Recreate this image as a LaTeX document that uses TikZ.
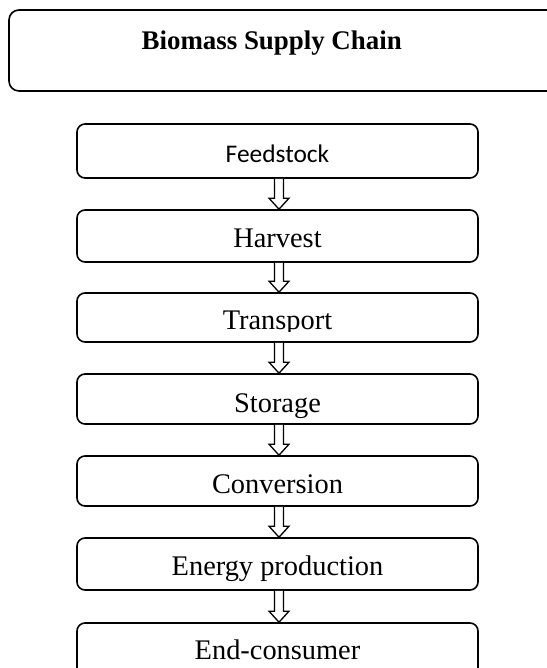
\documentclass[tikz,border=0pt]{standalone}
\usepackage{fontspec}
\setmainfont{Liberation Serif}
\newfontfamily\calibrifont{Carlito}
\usetikzlibrary{calc}
\tikzset{
  stepbox/.style={draw, line width=1.6bp, rounded corners=8bp, minimum width=401bp, inner sep=0pt},
  titlebox/.style={draw, line width=1.6bp, rounded corners=10bp, inner sep=0pt},
  steptext/.style={anchor=base, inner sep=0pt, font=\fontsize{28.5}{31}\selectfont},
  flowarrow/.style={draw, line width=1.3bp, fill=white, line join=miter}
}
\newcommand{\hollowdown}[2]{%
  \draw[flowarrow] ($(#1.south)+(-3,0)$) -- ($(#2.north)+(-3,-11)$) -- ($(#2.north)+(-8.5,-11)$)
    -- ($(#2.north)+(1.5,0)$) -- ($(#2.north)+(11.5,-11)$) -- ($(#2.north)+(6,-11)$)
    -- ($(#1.south)+(6,0)$);}
\begin{document}
\begin{tikzpicture}[x=1bp,y=-1bp]
\useasboundingbox (0,0) rectangle (547,668);
% title
\node[titlebox, minimum width=561bp, minimum height=81bp] (titlebox) at (289.5,50.5) {};
\node[anchor=base, inner sep=0pt, font=\fontsize{27}{30}\selectfont\bfseries] (title) at (271.7,50) {Biomass Supply Chain};
% boxes
\node[stepbox, minimum height=54bp] (feed) at (277.5,151) {};
\node[stepbox, minimum height=52bp] (harvest) at (277.5,236) {};
\node[stepbox, minimum height=49bp] (transport) at (277.5,317.5) {};
\node[stepbox, minimum height=50bp] (storage) at (277.5,399) {};
\node[stepbox, minimum height=50bp] (conversion) at (277.5,481) {};
\node[stepbox, minimum height=52bp] (energy) at (277.5,564) {};
\node[stepbox, minimum height=80bp] (endc) at (277.5,663) {};
% texts
\node[steptext, font=\fontsize{25.5}{28}\selectfont\calibrifont] (feedtext) at (277.5,162) {Feedstock};
\node[steptext] (harvesttext) at (277.5,247) {Harvest};
\begin{scope}
  \clip (0,293) rectangle (547,331);
  \node[steptext] (transporttext) at (277.5,329) {Transport};
\end{scope}
\begin{scope}
  \clip (0,374) rectangle (547,421);
  \node[steptext] (storagetext) at (277.5,412) {Storage};
\end{scope}
\node[steptext] (conversiontext) at (277.5,493) {Conversion};
\node[steptext] (energytext) at (277.5,575) {Energy production};
\node[steptext] (endtext) at (277.5,659) {End-consumer};
% arrows
\hollowdown{feed}{harvest}
\hollowdown{harvest}{transport}
\hollowdown{transport}{storage}
\hollowdown{storage}{conversion}
\hollowdown{conversion}{energy}
\hollowdown{energy}{endc}
\end{tikzpicture}
\end{document}
